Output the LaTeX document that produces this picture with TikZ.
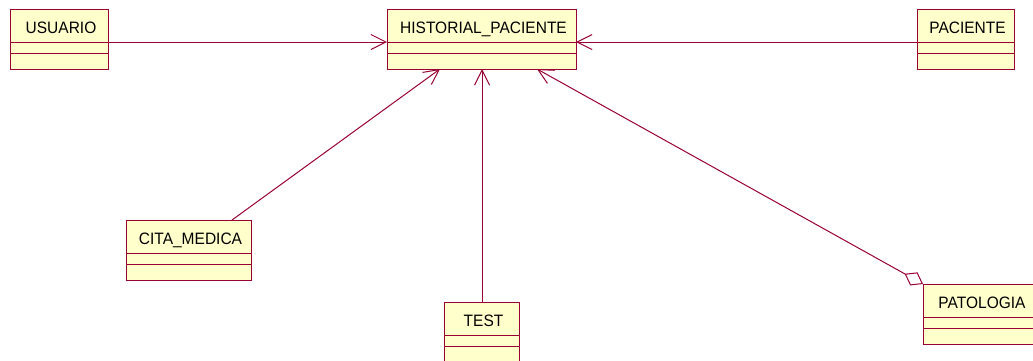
\documentclass[tikz,border=0pt]{standalone}
\usepackage{fontspec}
\setmainfont{Liberation Sans}
\newfontfamily\clsfont[FakeStretch=0.94]{Liberation Sans}
\usetikzlibrary{arrows.meta,calc}

\definecolor{roseline}{RGB}{153,0,51}
\definecolor{classfill}{RGB}{255,255,204}

\tikzset{
  clsbox/.style={draw=roseline, fill=classfill, line width=1pt, rectangle,
    minimum height=60pt, inner sep=0pt, outer sep=0pt, anchor=north west},
  clstext/.style={anchor=base, inner sep=0pt, font=\clsfont\fontsize{16.5}{19}\selectfont},
  clssep/.style={draw=roseline, line width=1pt},
  assoc/.style={draw=roseline, line width=1pt, -{Straight Barb[length=15pt, width=15pt, line width=1pt]}},
  aggr/.style={draw=roseline, line width=1pt,
    {Diamond[open, length=21pt, width=15pt, line width=1pt, fill=white]}-{Straight Barb[length=15pt, width=15pt, line width=1pt]}},
}

% class box: name, left x, top y, width, title
\newcommand\umlclass[5]{%
  \node[clsbox, minimum width=#4pt] (#1) at (#2,#3) {};
  \node[clstext] (#1-title) at ($(#1.north)+(2,24)$) {#5};
  \draw[clssep] ($(#1.north west)+(0,33)$) -- ($(#1.north east)+(0,33)$);
  \draw[clssep] ($(#1.north west)+(0,44)$) -- ($(#1.north east)+(0,44)$);
}

\begin{document}
\begin{tikzpicture}[x=1pt, y=-1pt]
  \useasboundingbox (0,0) rectangle (1033,360);
  \clip (0,0) rectangle (1033,360);
  \fill[white] (0,0) rectangle (1033,360);

  \umlclass{usu}{10}{9}{98}{USUARIO}
  \umlclass{hist}{387}{9}{189}{HISTORIAL\_PACIENTE}
  \umlclass{pac}{917}{9}{97}{PACIENTE}
  \umlclass{cita}{126}{220}{125}{CITA\_MEDICA}
  \umlclass{test}{444}{302}{75}{TEST}
  \umlclass{pat}{923}{284}{114}{PATOLOGIA}

  % attachment points on the boxes
  \coordinate (usu-r)   at ($(usu.north east)+(0,33)$);
  \coordinate (pac-l)   at ($(pac.north west)+(0,33)$);
  \coordinate (hist-l)  at ($(hist.north west)+(0,33)$);
  \coordinate (hist-r)  at ($(hist.north east)+(0,33)$);
  \coordinate (hist-b1) at ($(hist.south west)+(53,0)$);
  \coordinate (hist-b2) at ($(hist.south west)+(95,0)$);
  \coordinate (hist-b3) at ($(hist.south west)+(150,0)$);
  \coordinate (cita-t)  at ($(cita.north west)+(106,0)$);
  \coordinate (test-t)  at ($(test.north west)+(38,0)$);

  % associations
  \draw[assoc] (usu-r) -- (hist-l);
  \draw[assoc] (pac-l) -- (hist-r);
  \draw[assoc] (cita-t) -- (hist-b1);
  \draw[assoc] (test-t) -- (hist-b2);
  \draw[aggr]  (pat.north west) -- (hist-b3);
\end{tikzpicture}
\end{document}
